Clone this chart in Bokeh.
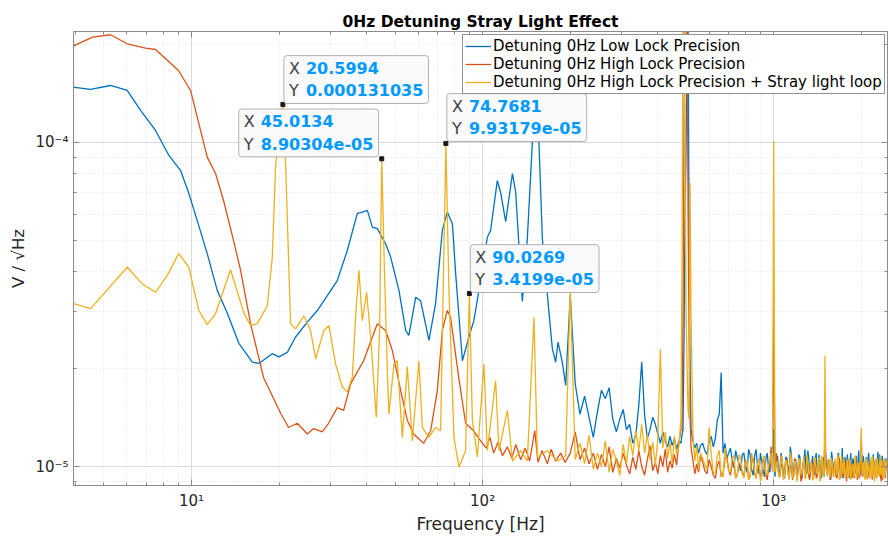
from bokeh.plotting import figure
from bokeh.models import (FixedTicker, CustomJSTickFormatter, Legend, LegendItem,
                          Label, LogAxis, Range1d)
from bokeh.embed import file_html
from bokeh.resources import INLINE

FONT = "DejaVu Sans"

# ---------------- data (values in uV/sqrt(Hz), frequencies in Hz) ----------------
BLUE_LF_F = [3.9, 4.50, 5.27, 6.01, 6.68, 7.52, 8.36, 9.17, 9.79, 10.46, 11.32, 12.26,
             13.27, 14.54, 16.17, 17.03, 18.94, 19.95, 21.33, 22.78, 24.98, 27.04, 29.27, 31.67,
             34.28, 37.11, 38.6, 40.17, 41.8, 43.46, 46.42, 48.3, 51.6, 54.4, 55.8, 58.9,
             61.2, 65.4, 68.9, 72.7, 75.6, 78.7, 80.8, 85.2, 89.7, 93.3, 98.4, 103.8,
             106.5, 112.3, 115.3, 120.0, 126.6, 129.9, 136.9, 142.4, 148.2, 152.1, 156.1, 160.4,
             169.0, 173.6, 178.2, 181.5, 187.8, 192.9]
BLUE_LF_V = [148.2, 145.8, 149.9, 144.7, 125.6, 108.9, 91.2, 81.9, 69.6, 57.4, 45.4, 34.9,
             29.7, 24.0, 21.0, 20.8, 22.3, 21.8, 22.5, 25.1, 27.9, 30.3, 33.7, 37.5,
             46.4, 60.4, 61.0, 61.7, 54.8, 54.2, 48.7, 44.3, 34.9, 26.3, 25.4, 33.3,
             32.5, 24.5, 31.8, 53.5, 61.0, 56.1, 39.3, 21.2, 25.1, 28.2, 37.5, 51.0,
             53.5, 76.3, 70.1, 57.0, 80.1, 70.1, 32.3, 50.5, 100.2, 139.6, 100.2, 50.5,
             29.9, 23.1, 21.0, 24.2, 21.0, 17.8]

ORANGE_LF_F = [3.9, 4.57, 5.27, 6.01, 6.95, 7.52, 9.02, 9.92, 11.32, 12.09, 12.88, 13.94,
               14.74, 15.95, 17.68, 20.23, 21.54, 23.08, 24.98, 26.26, 28.13, 29.56, 31.67, 33.30,
               35.19, 39.0, 43.46, 46.42, 48.95, 52.25, 55.1, 57.9, 62.7, 66.3, 69.9, 72.7,
               75.6, 77.6, 82.7, 87.4, 93.1, 98.4, 103.0, 106.0, 109.1, 113.0, 117.0, 121.6,
               126.0, 130.0, 135.1, 140.0, 145.0, 151.0, 155.0, 160.0, 166.9, 172.0, 178.0, 185.4,
               192.0]
ORANGE_LF_V = [197.8, 211.4, 215.0, 201.6, 195.4, 193.6, 166.8, 144.7, 90.1, 80.2, 66.2, 49.8,
               40.3, 27.6, 18.8, 14.6, 13.2, 13.6, 12.6, 13.1, 12.8, 13.6, 15.2, 14.9,
               18.0, 21.2, 27.6, 26.3, 22.8, 17.2, 13.9, 12.6, 11.8, 12.9, 17.2, 26.3,
               30.3, 28.9, 18.9, 13.6, 12.9, 12.0, 11.4, 12.3, 11.0, 11.9, 10.8, 11.5,
               10.6, 11.7, 10.5, 11.4, 10.4, 12.9, 10.3, 11.2, 10.2, 11.3, 10.4, 11.0,
               10.3]

YELLOW_LF_F = [3.9, 4.50, 6.01, 6.77, 7.52, 8.25, 9.04, 9.79, 10.59, 11.32, 12.09, 13.61,
               15.12, 15.95, 16.82, 18.2, 18.94, 19.44, 20.5994, 21.04, 21.89, 22.78, 24.32, 25.63,
               26.67, 28.49, 29.64, 31.25, 32.96, 34.28, 35.67, 36.6, 37.58, 38.6, 39.94, 41.22,
               43.12, 44.26, 45.0134, 46.05, 47.05, 47.64, 49.57, 50.92, 52.98, 55.1, 57.34, 60.4,
               62.06, 65.4, 68.9, 71.7, 74.7681, 76.6, 79.7, 82.9, 87.4, 90.0269, 92.2, 95.9,
               101.0, 103.8, 110.8, 113.8, 121.6, 126.6, 135.1, 142.4, 150.1, 154.2, 166.9, 180.6,
               192.9]
YELLOW_LF_V = [31.9, 30.7, 41.2, 36.6, 34.5, 38.9, 45.4, 41.2, 30.3, 27.4, 29.6, 40.5,
               29.8, 27.2, 27.6, 31.3, 44.3, 84.9, 131.035, 86.1, 27.6, 26.6, 29.2, 26.3,
               21.5, 26.3, 27.2, 20.7, 17.6, 17.0, 18.9, 28.9, 40.3, 28.2, 34.5, 25.1,
               14.2, 26.3, 89.0304, 38.4, 19.8, 14.5, 20.7, 21.2, 12.3, 20.3, 12.0, 21.2,
               13.2, 12.3, 13.2, 12.9, 99.3179, 34.9, 12.3, 9.95, 11.2, 34.199, 13.9, 10.7,
               20.7, 11.2, 18.4, 11.2, 14.9, 10.4, 11.2, 10.4, 28.9, 10.7, 11.2, 10.4,
               10.8]

HF_FREQ = [200, 208, 216, 224, 232, 240, 248, 256, 264, 272, 280, 288,
           296, 304, 312, 320, 328, 336, 344, 352, 360, 368, 376, 384,
           392, 400, 408, 416, 424, 432, 440, 448, 456, 464, 472, 480,
           484, 488, 492, 496, 500, 504, 508, 512, 516, 520,
           528, 536, 544, 552, 560,
           580, 600, 620, 640, 660, 680, 700, 720, 740, 760, 780, 800,
           820, 840, 860, 880, 900, 920, 940, 960, 980, 1000,
           1020, 1040, 1060, 1080, 1100, 1120, 1140, 1160, 1180, 1200,
           1220, 1240, 1260, 1280, 1300, 1320, 1340, 1360, 1380, 1400,
           1420, 1440, 1460, 1480, 1500, 1520, 1540, 1560, 1580, 1600,
           1620, 1640, 1660, 1680, 1700, 1720, 1740, 1760, 1780, 1800,
           1820, 1840, 1860, 1880, 1900, 1920, 1940, 1960, 1980, 2000,
           2020, 2040, 2060, 2080, 2100, 2120, 2140, 2160, 2180, 2200,
           2220, 2240, 2260, 2280, 2300, 2320, 2340, 2360, 2380, 2400,
           2420, 2440]

BLUE_HF = [33.7, 18.0, 14.5, 16.5, 14.2, 12.3, 14.8, 17.2, 16.2, 17.5, 14.0, 12.8,
           14.0, 15.0, 13.0, 13.5, 11.8, 12.5, 15.5, 21.0, 14.5, 12.2, 13.0, 14.2,
           13.5, 12.6, 11.8, 12.8, 12.0, 11.5, 12.4, 11.6, 12.2, 11.3, 12.0, 11.8,
           12.5, 13.0, 25.0, 60.0, 100.0, 240.0, 250.0, 50.0, 20.0, 13.0,
           12.0, 11.4, 11.8, 11.0, 11.6,
           11.2, 12.0, 11.5, 13.9, 19.5, 11.8, 11.0, 10.5, 11.2, 10.2, 10.9, 10.0,
           11.3, 9.8, 10.8, 10.0, 11.0, 9.7, 10.6, 9.9, 11.2, 13.0,
           10.4, 9.6, 11.0, 9.5, 10.7, 9.8, 11.5, 9.4, 10.5, 9.7,
           10.9, 9.3, 10.2, 11.3, 9.5, 10.6, 9.9, 10.8, 9.4, 11.0,
           9.8, 10.3, 9.2, 10.7, 11.8, 9.7, 10.5, 9.4, 11.1, 9.9,
           10.4, 9.3, 10.9, 9.6, 10.2, 11.4, 9.5, 10.6, 9.8, 10.3,
           9.2, 11.0, 9.7, 10.4, 9.5, 10.8, 9.9, 11.2, 9.4, 11.5,
           9.8, 10.3, 9.3, 10.7, 9.6, 11.0, 9.5, 10.4, 9.8, 10.9,
           9.3, 10.5, 9.7, 11.1, 9.6, 10.2, 9.4, 10.8, 9.9, 10.5,
           9.5, 10.3]

ORANGE_HF = [11.0, 12.8, 10.5, 11.4, 10.2, 11.0, 9.8, 10.9, 10.0, 11.5, 9.6, 10.6,
             9.9, 11.0, 10.1, 9.5, 10.7, 9.8, 11.2, 10.0, 9.4, 10.5, 11.6, 9.7,
             10.3, 9.5, 10.8, 10.0, 11.3, 9.6, 10.4, 9.9, 10.9, 10.1, 11.8, 13.0,
             13.0, 30.0, 120.0, 250.0, 250.0, 240.0, 60.0, 25.0, 14.0, 11.5,
             10.4, 9.5, 10.2, 9.6, 10.8,
             9.7, 10.5, 9.4, 10.1, 9.3, 10.6, 9.8, 10.2, 9.2, 10.0, 9.6, 10.4,
             9.1, 10.3, 9.5, 10.1, 9.3, 10.5, 9.4, 9.9, 11.5, 32.0,
             11.0, 9.5, 10.2, 9.2, 10.4, 9.6, 10.0, 9.1, 10.6, 9.4,
             10.3, 9.0, 10.1, 9.5, 10.7, 9.3, 10.0, 9.6, 10.4, 9.2,
             10.2, 9.7, 10.5, 9.4, 13.5, 9.6, 10.3, 9.1, 10.0, 9.5,
             10.4, 9.3, 9.9, 10.6, 9.2, 10.1, 9.6, 10.3, 9.0, 10.5,
             9.4, 9.9, 9.2, 10.2, 9.6, 10.4, 9.1, 10.0, 9.5, 12.5,
             9.3, 10.1, 9.6, 10.4, 9.2, 9.9, 9.5, 10.3, 9.1, 10.0,
             9.6, 10.5, 9.3, 9.8, 9.4, 10.2, 9.0, 10.1, 9.5, 10.4,
             9.2, 9.9]

YELLOW_HF = [35.0, 10.5, 11.8, 10.2, 12.5, 9.8, 11.0, 10.0, 12.0, 9.6, 11.3, 10.4,
             9.4, 11.7, 10.2, 12.4, 10.8, 12.9, 11.2, 13.5, 11.0, 12.6, 10.5, 11.9,
             10.1, 12.2, 23.0, 11.4, 12.8, 10.6, 11.9, 10.2, 12.4, 10.9, 11.5, 14.0,
             40.0, 250.0, 260.0, 80.0, 30.0, 20.0, 15.0, 14.0, 75.0, 30.0,
             12.5, 10.4, 11.6, 9.8, 11.0,
             10.1, 13.2, 9.6, 10.8, 9.4, 11.4, 9.7, 10.6, 9.2, 10.9, 9.5, 10.3,
             9.1, 11.0, 9.6, 10.2, 9.0, 10.7, 9.4, 10.1, 11.0, 101.0,
             10.2, 9.3, 10.8, 9.1, 10.5, 9.5, 11.1, 9.2, 10.4, 9.0,
             10.6, 9.4, 10.0, 9.2, 10.9, 9.5, 10.3, 9.1, 10.7, 9.6,
             10.2, 9.0, 10.8, 9.4, 22.0, 9.7, 10.4, 9.2, 10.6, 9.3,
             10.1, 9.5, 10.9, 9.1, 10.3, 9.6, 10.7, 9.2, 10.0, 9.4,
             10.6, 9.1, 10.2, 9.5, 10.8, 9.3, 10.1, 9.6, 10.5, 13.2,
             9.4, 10.3, 9.1, 10.6, 9.5, 10.0, 9.2, 10.7, 9.4, 10.2,
             9.0, 10.5, 9.6, 10.1, 9.3, 10.8, 9.4, 10.0, 9.2, 10.6,
             9.5, 10.1]

# in-between samples of the high-frequency noise floor
MID_FREQ = [570, 590, 610, 630, 650, 670, 690, 710, 730, 750, 770, 790,
            810, 830, 850, 870, 890, 910, 930, 950, 970, 990,
            1010, 1030, 1050, 1070, 1090, 1110, 1130, 1150, 1170, 1190,
            1210, 1230, 1250, 1270, 1290, 1310, 1330, 1350, 1370, 1390,
            1410, 1430, 1450, 1470, 1490, 1510, 1530, 1550, 1570, 1590,
            1610, 1630, 1650, 1670, 1690, 1710, 1730, 1750, 1770, 1790,
            1810, 1830, 1850, 1870, 1890, 1910, 1930, 1950, 1970, 1990,
            2010, 2030, 2050, 2070, 2090, 2110, 2130, 2150, 2170, 2190,
            2210, 2230, 2250, 2270, 2290, 2310, 2330, 2350, 2370, 2390,
            2410, 2430]
BLUE_MID = [11.8, 10.9, 12.4, 12.2, 14.5, 11.0, 10.6, 11.4, 9.9, 10.6, 9.7, 11.0,
            9.6, 10.9, 9.4, 11.3, 9.5, 10.4, 9.3, 11.0, 9.6, 10.2,
            9.3, 10.8, 9.7, 10.3, 9.2, 10.6, 9.6, 10.9, 9.3, 10.5,
            9.6, 10.7, 9.2, 10.4, 9.8, 11.2, 9.3, 10.1, 9.7, 10.6,
            9.4, 10.9, 9.6, 10.2, 9.3, 10.8, 9.5, 10.4, 9.1, 10.6,
            9.7, 10.3, 9.4, 11.0, 9.5, 10.1, 9.2, 10.7, 9.6, 10.9,
            9.9, 10.2, 9.3, 10.6, 9.6, 10.1, 9.4, 10.5, 9.7, 10.3,
            9.4, 10.8, 9.5, 10.1, 9.2, 10.6, 9.7, 10.3, 9.4, 10.7,
            9.7, 10.2, 9.3, 10.5, 9.5, 10.9, 9.2, 10.4, 9.6, 10.1,
            9.8, 10.6]
ORANGE_MID = [10.3, 9.5, 10.0, 9.2, 10.4, 9.5, 10.7, 9.4, 10.3, 9.5, 10.1, 9.3,
              10.2, 9.4, 10.6, 9.2, 10.0, 9.5, 10.3, 9.1, 10.2, 9.7,
              9.6, 10.3, 9.3, 10.0, 9.5, 10.5, 9.2, 10.1, 9.4, 10.2,
              9.5, 10.2, 9.2, 10.4, 9.4, 10.1, 9.1, 10.3, 9.5, 10.0,
              9.3, 10.1, 9.2, 10.3, 9.6, 10.2, 9.4, 10.5, 9.2, 10.1,
              9.6, 10.2, 9.2, 10.0, 9.5, 10.4, 9.3, 10.2, 9.4, 10.1,
              9.6, 10.3, 9.5, 10.0, 9.2, 10.3, 9.4, 10.1, 9.2, 10.4,
              9.6, 10.2, 9.3, 10.0, 9.5, 10.3, 9.2, 10.1, 9.6, 10.3,
              9.4, 10.0, 9.2, 10.3, 9.6, 10.0, 9.3, 10.4, 9.1, 10.2,
              9.6, 10.3]
YELLOW_MID = [10.6, 9.8, 10.9, 9.5, 11.2, 9.3, 10.4, 9.6, 10.8, 9.4, 10.6, 9.2,
              10.5, 9.3, 10.4, 9.2, 10.6, 9.3, 10.8, 9.5, 10.3, 9.6,
              9.6, 10.4, 9.3, 10.7, 9.4, 10.2, 9.1, 10.6, 9.5, 10.3,
              9.3, 10.5, 9.6, 10.8, 9.2, 10.4, 9.5, 10.2, 9.1, 10.6,
              9.5, 10.7, 9.2, 10.4, 9.4, 10.0, 9.3, 10.5, 9.6, 10.2,
              9.3, 10.6, 9.4, 10.3, 9.2, 10.8, 9.5, 10.1, 9.3, 10.5,
              9.2, 10.4, 9.6, 10.1, 9.3, 10.7, 9.2, 10.3, 9.4, 10.6,
              9.6, 10.2, 9.3, 10.5, 9.1, 10.4, 9.6, 10.1, 9.3, 10.8,
              9.5, 10.3, 9.2, 10.6, 9.4, 10.2, 9.6, 10.5, 9.3, 10.1,
              9.4, 10.5]

SERIES_NAMES = ["Detuning 0Hz Low Lock Precision",
                "Detuning 0Hz High Lock Precision",
                "Detuning 0Hz High Lock Precision + Stray light loop"]
SERIES_COLORS = ["#0072BD", "#D95319", "#EDB120"]

TIP_FREQ = [20.5994, 45.0134, 74.7681, 90.0269]
TIP_VAL = [0.000131035, 8.90304e-05, 9.93179e-05, 3.4199e-05]
TIP_X_TEXT = ["20.5994", "45.0134", "74.7681", "90.0269"]
TIP_Y_TEXT = ["0.000131035", "8.90304e-05", "9.93179e-05", "3.4199e-05"]
TIP_BOX_SHIFT = [(1, 1), (-143, 2), (1, 2), (1, 1)]   # screen px of box corner vs point

X_MAJOR = [10, 100, 1000]
X_MINOR = [4, 5, 6, 7, 8, 9, 20, 30, 40, 50, 60, 70, 80, 90,
           200, 300, 400, 500, 600, 700, 800, 900, 2000]
Y_MAJOR = [1e-5, 1e-4]
Y_MINOR = [9e-6, 2e-5, 3e-5, 4e-5, 5e-5, 6e-5, 7e-5, 8e-5, 9e-5, 2e-4]

UV = 1e-6

# ---------------- figure ----------------
p = figure(width=888, height=539, x_axis_type="log", y_axis_type="log",
           x_range=Range1d(3.93, 2460), y_range=Range1d(8.74e-6, 2.2e-4),
           output_backend="svg", toolbar_location=None,
           min_border_left=73, min_border_right=1, min_border_top=31, min_border_bottom=54)
p.background_fill_color = "white"
p.border_fill_color = "white"
p.outline_line_color = "#8c8c8c"

p.title.text = "0Hz Detuning Stray Light Effect"
p.title.align = "center"
p.title.text_font = FONT
p.title.text_font_size = "15.5px"
p.title.text_font_style = "bold"
p.title.text_color = "#000000"
p.title.standoff = 2

xt = FixedTicker(ticks=X_MAJOR, minor_ticks=X_MINOR)
yt = FixedTicker(ticks=Y_MAJOR, minor_ticks=Y_MINOR)
sup_fmt = CustomJSTickFormatter(code="""
const e = Math.round(Math.log10(tick));
const m = {'-':'\u207b','0':'\u2070','1':'\u00b9','2':'\u00b2','3':'\u00b3','4':'\u2074',
           '5':'\u2075','6':'\u2076','7':'\u2077','8':'\u2078','9':'\u2079'};
return '10' + String(e).split('').map(c => m[c]).join('');
""")
blank_fmt = CustomJSTickFormatter(code="return '';")

AX = "#8c8c8c"
def style_axis(ax, ticker, fmt):
    ax.ticker = ticker
    ax.formatter = fmt
    ax.axis_line_color = AX
    ax.major_tick_line_color = AX
    ax.minor_tick_line_color = AX
    ax.major_tick_in = 6
    ax.major_tick_out = 0
    ax.minor_tick_in = 3
    ax.minor_tick_out = 0
    ax.major_label_text_font = FONT
    ax.major_label_text_font_size = "15px"
    ax.major_label_text_color = "#262626"
    ax.axis_label_text_font = FONT
    ax.axis_label_text_font_style = "normal"
    ax.axis_label_text_color = "#262626"

style_axis(p.xaxis[0], xt, sup_fmt)
style_axis(p.yaxis[0], yt, sup_fmt)
p.xaxis[0].axis_label = "Frequency [Hz]"
p.xaxis[0].axis_label_text_font_size = "17px"
p.xaxis[0].major_label_standoff = 6
p.xaxis[0].axis_label_standoff = 1
p.yaxis[0].axis_label = "V / \u221aHz"
p.yaxis[0].axis_label_text_font_size = "16.5px"
p.yaxis[0].major_label_standoff = 5
p.yaxis[0].axis_label_standoff = 4

top_ax = LogAxis()
style_axis(top_ax, xt, blank_fmt)
top_ax.major_label_text_font_size = "0px"
top_ax.major_label_standoff = 0
p.add_layout(top_ax, "above")
right_ax = LogAxis()
style_axis(right_ax, yt, blank_fmt)
right_ax.major_label_text_font_size = "0px"
right_ax.major_label_standoff = 0
p.add_layout(right_ax, "right")

p.xgrid.ticker = xt
p.ygrid.ticker = yt
for g in (p.xgrid[0], p.ygrid[0]):
    g.grid_line_color = "#dadada"
    g.grid_line_width = 1
    g.minor_grid_line_color = "#e3e3e3"
    g.minor_grid_line_dash = "1 2"

# ---------------- curves ----------------
def merged(lf_f, lf_v, hf_v, mid_v):
    pts = list(zip(lf_f, lf_v)) + list(zip(HF_FREQ, hf_v)) + list(zip(MID_FREQ, mid_v))
    pts.sort(key=lambda t: t[0])
    return [t[0] for t in pts], [t[1] * UV for t in pts]

series = [merged(BLUE_LF_F, BLUE_LF_V, BLUE_HF, BLUE_MID),
          merged(ORANGE_LF_F, ORANGE_LF_V, ORANGE_HF, ORANGE_MID),
          merged(YELLOW_LF_F, YELLOW_LF_V, YELLOW_HF, YELLOW_MID)]
items = []
for name, col, (fs, vs) in zip(SERIES_NAMES, SERIES_COLORS, series):
    r = p.line(fs, vs, line_color=col, line_width=1.3)
    items.append(LegendItem(label=name, renderers=[r]))

legend = Legend(items=items, location=(389, 391))
legend.label_text_font = FONT
legend.label_text_font_size = "15px"
legend.label_text_color = "#000000"
legend.glyph_width = 26
legend.glyph_height = 16
legend.label_height = 16
legend.label_standoff = 2
legend.padding = 2
legend.spacing = 0
legend.margin = 0
legend.border_line_color = "#262626"
legend.border_line_width = 1
legend.background_fill_color = "white"
legend.background_fill_alpha = 1
p.add_layout(legend)

# ---------------- data tips ----------------
p.scatter(TIP_FREQ, TIP_VAL, marker="square", size=4, color="#1a1a1a")
PAD_V, PAD_H = 3, 5
BOX_BG = "#fafafd"
for fx, fy, xs, ys, (dx, dy) in zip(TIP_FREQ, TIP_VAL, TIP_X_TEXT, TIP_Y_TEXT, TIP_BOX_SHIFT):
    common = dict(x=fx, y=fy, x_units="data", y_units="data", text_align="left",
                  text_baseline="bottom", text_font=FONT, text_font_size="16px")
    bg = Label(text="X " + xs + "\nY " + ys, text_font_style="bold", text_color=BOX_BG,
               background_fill_color=BOX_BG, background_fill_alpha=1.0,
               border_line_color="#b0b0b0", border_line_width=1,
               padding=dict(top=PAD_V, bottom=PAD_V, left=PAD_H, right=PAD_H),
               border_radius=3, x_offset=dx, y_offset=dy, **common)
    p.add_layout(bg)
    lab = Label(text="X\nY", text_color="#404040",
                x_offset=dx + PAD_H, y_offset=dy + PAD_V, **common)
    p.add_layout(lab)
    val = Label(text=xs + "\n" + ys, text_color="#0099ff", text_font_style="bold",
                x_offset=dx + PAD_H + 17, y_offset=dy + PAD_V, **common)
    p.add_layout(val)

open("out.html", "w").write(file_html(p, INLINE))
